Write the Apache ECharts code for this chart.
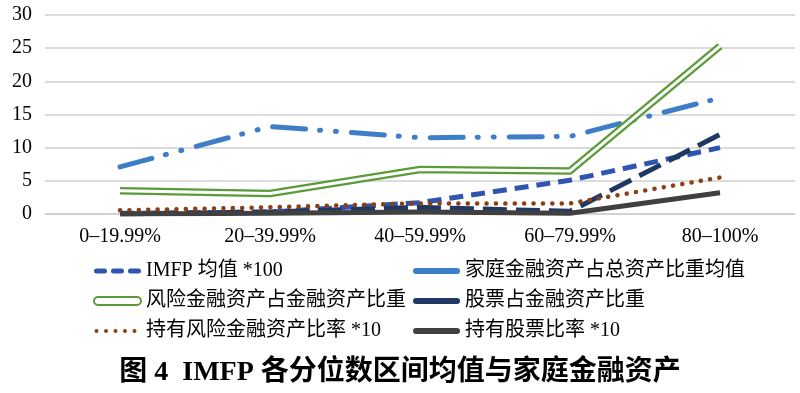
<!DOCTYPE html>
<html><head><meta charset="utf-8">
<script src="https://cdn.jsdelivr.net/npm/echarts@6/dist/echarts.min.js"></script>
<style>html,body{margin:0;padding:0;background:#fff}#c{width:800px;height:393px}</style>
</head><body><div id="c"></div>
<script>
var categories = ['0–19.99%', '20–39.99%', '40–59.99%', '60–79.99%', '80–100%'];
var imfp = [0.1, 0.3, 1.7, 5.1, 10.0];
var hhFinShare = [7.1, 13.2, 11.5, 11.7, 17.5];
var riskShare = [3.5, 3.1, 6.7, 6.5, 25.3];
var stockShare = [0.0, 0.3, 1.0, 0.4, 12.0];
var holdRisk = [0.55, 1.0, 1.6, 1.6, 5.5];
var holdStock = [0.0, 0.1, 0.3, 0.1, 3.2];
var yTicks = [0, 5, 10, 15, 20, 25, 30];

var names = ['IMFP 均值 *100', '家庭金融资产占总资产比重均值', '风险金融资产占金融资产比重', '股票占金融资产比重', '持有风险金融资产比率 *10', '持有股票比率 *10'];
var FONT = '"Liberation Serif", "Noto Sans CJK SC", serif';
var bar = 'path://M3,0 L44,0 A3,3 0 0 1 44,6 L3,6 A3,3 0 0 1 3,0 Z';
var dbl = 'path://M4,0 L43,0 A4,4 0 0 1 43,8 L4,8 A4,4 0 0 1 4,0 Z';
var dashes = 'path://M2.5,0 L10.5,0 A2.5,2.5 0 0 1 10.5,5 L2.5,5 A2.5,2.5 0 0 1 2.5,0 Z M19.5,0 L27.5,0 A2.5,2.5 0 0 1 27.5,5 L19.5,5 A2.5,2.5 0 0 1 19.5,0 Z M36.5,0 L44.5,0 A2.5,2.5 0 0 1 44.5,5 L36.5,5 A2.5,2.5 0 0 1 36.5,0 Z';
var dots = 'path://' + [2.5, 12, 21.5, 31, 40.5].map(function (c) {
  return 'M' + (c - 2) + ',2.5 A2,2 0 1 1 ' + (c + 2) + ',2.5 A2,2 0 1 1 ' + (c - 2) + ',2.5 Z';
}).join(' ') + ' M0,0 M47,5';

var chart = echarts.init(document.getElementById('c'));
function line(name, data, color, width, type, cap, z) {
  return {name: name, type: 'line', data: data, symbol: 'none', z: z,
    lineStyle: {color: color, width: width, type: type, cap: cap || 'butt', join: 'round'},
    itemStyle: {color: color}};
}
var legendBase = {orient: 'vertical', itemWidth: 47, itemHeight: 14, itemGap: 10,
  textStyle: {fontSize: 20, fontFamily: FONT, color: '#000', lineHeight: 20}};
chart.setOption({
  animation: false,
  title: {text: '图 4  IMFP 各分位数区间均值与家庭金融资产', left: 'center', top: 354,
    textStyle: {fontSize: 28, fontWeight: 'bold', fontFamily: FONT, color: '#000'}},
  grid: {left: 45, right: 5, top: 15, bottom: 179},
  legend: [
    Object.assign({}, legendBase, {left: 88, top: 256, data: [
      {name: names[0], icon: dashes, itemStyle: {color: '#2F55B2', borderWidth: 0}},
      {name: names[2], icon: dbl, itemStyle: {color: '#fff', borderColor: '#5B9B3A', borderWidth: 2}},
      {name: names[4], icon: dots, itemStyle: {color: '#8B3F12', borderWidth: 0}}
    ]}),
    Object.assign({}, legendBase, {left: 408, top: 256, data: [
      {name: names[1], icon: bar, itemStyle: {color: '#3E7EC6', borderWidth: 0}},
      {name: names[3], icon: bar, itemStyle: {color: '#1F3864', borderWidth: 0}},
      {name: names[5], icon: bar, itemStyle: {color: '#404040', borderWidth: 0}}
    ]})
  ],
  xAxis: {type: 'category', data: categories, boundaryGap: true,
    axisLine: {lineStyle: {color: '#cfcfcf', width: 1.5}}, axisTick: {show: false},
    axisLabel: {fontSize: 20, fontFamily: FONT, color: '#000', margin: 13}},
  yAxis: {type: 'value', min: 0, max: 30, interval: 5,
    axisLine: {show: false}, axisTick: {show: false},
    axisLabel: {fontSize: 20, fontFamily: FONT, color: '#000', margin: 13,
      formatter: function (v) { return yTicks.indexOf(v) >= 0 ? String(v) : ''; }},
    splitLine: {lineStyle: {color: '#cfcfcf', width: 1.5}}},
  series: [
    line(names[0], imfp, '#2F55B2', 5, [14, 8], 'butt', 2),
    line(names[1], hhFinShare, '#3E7EC6', 5, [33, 14, 1, 15, 1, 15], 'round', 3),
    line(names[2], riskShare, '#5B9B3A', 7.5, 'solid', 'butt', 4),
    {name: 'inner', type: 'line', data: riskShare, symbol: 'none', z: 5, silent: true,
      lineStyle: {color: '#fff', width: 3, join: 'round'}},
    line(names[3], stockShare, '#1F3864', 5, [24, 9], 'butt', 6),
    line(names[4], holdRisk, '#8B3F12', 4.5, [0.1, 9.3], 'round', 7),
    line(names[5], holdStock, '#404040', 5, 'solid', 'butt', 8)
  ]
});
</script></body></html>
